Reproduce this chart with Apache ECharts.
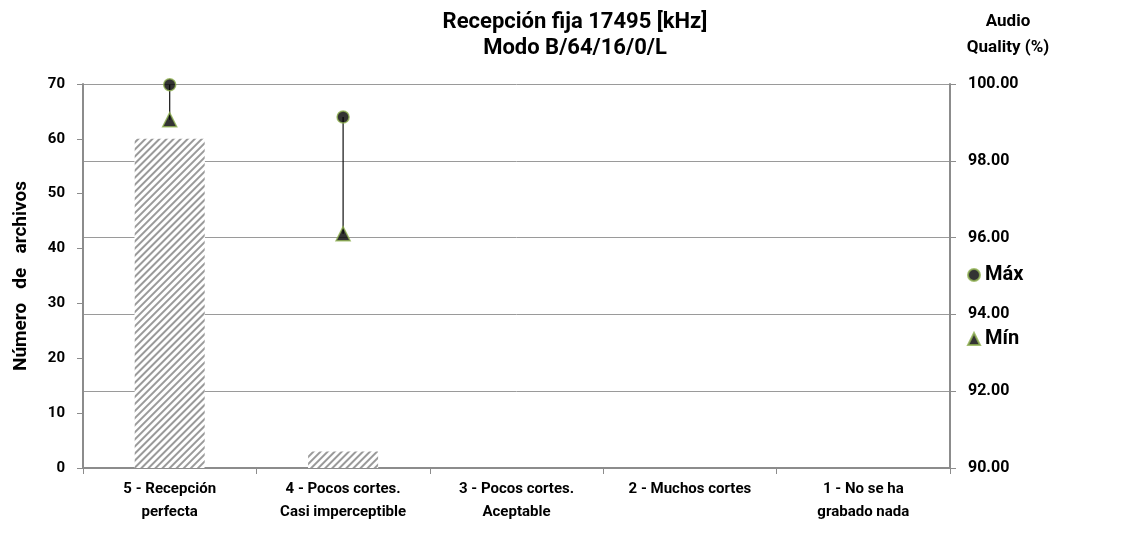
<!DOCTYPE html>
<html>
<head>
<meta charset="utf-8">
<script src="https://cdn.jsdelivr.net/npm/echarts@6/dist/echarts.min.js"></script>
<style>html,body{margin:0;padding:0;background:#fff}#c{width:1122px;height:536px}</style>
</head>
<body>
<div id="c"></div>
<script>
const categories = ['5 - Recepción\nperfecta', '4 - Pocos cortes.\nCasi imperceptible', '3 - Pocos cortes.\nAceptable', '2 - Muchos cortes', '1 - No se ha\ngrabado nada'];
const archivos = [60, 3, 0, 0, 0];
const maxQuality = [99.98, 99.14, null, null, null];
const minQuality = [99.07, 96.1, null, null, null];
const leftTicks = [0, 70, 10];
const rightTicks = [90, 100, 2];

const FONT = 'Roboto, "Noto Sans", sans-serif';
const chart = echarts.init(document.getElementById('c'), null, {renderer: 'canvas'});
const rangeData = categories.map((c, i) => [i, maxQuality[i], minQuality[i]]).filter(d => d[1] != null);
chart.setOption({
  animation: false,
  backgroundColor: '#fff',
  textStyle: {fontFamily: FONT},
  title: [
    {text: 'Recepción fija 17495 [kHz]\nModo B/64/16/0/L', left: 570, top: 4, textAlign: 'center',
     textStyle: {fontFamily: FONT, fontWeight: 'bold', fontSize: 22, lineHeight: 26, color: '#000'}},
    {text: 'Audio\nQuality (%)', left: 1003, top: 4, textAlign: 'center',
     textStyle: {fontFamily: FONT, fontWeight: 'bold', fontSize: 17, lineHeight: 26, color: '#000'}}
  ],
  legend: {
    orient: 'vertical', left: 962, top: 260, itemGap: 44, itemWidth: 12, itemHeight: 12,
    textStyle: {fontFamily: FONT, fontWeight: 'bold', fontSize: 20, color: '#000'},
    data: [{name: 'Máx', icon: 'circle'}, {name: 'Mín', icon: 'triangle'}]
  },
  grid: {left: 83, right: 172, top: 84, bottom: 68, containLabel: false},
  xAxis: {
    type: 'category', data: categories,
    axisLine: {lineStyle: {color: '#8c8c8c', width: 2}},
    axisTick: {show: true, alignWithLabel: false, length: 6, lineStyle: {color: '#8c8c8c', width: 1}},
    axisLabel: {fontFamily: FONT, fontWeight: 'bold', fontSize: 15, color: '#000', lineHeight: 23, margin: 10, interval: 0}
  },
  yAxis: [
    {type: 'value', min: leftTicks[0], max: leftTicks[1], interval: leftTicks[2], position: 'left',
     name: 'Número   de   archivos', nameLocation: 'middle', nameGap: 52,
     nameTextStyle: {fontFamily: FONT, fontWeight: 'bold', fontSize: 19, color: '#000'},
     axisLine: {show: true, lineStyle: {color: '#8c8c8c', width: 2}},
     axisTick: {show: true, length: 6, lineStyle: {color: '#8c8c8c'}},
     axisLabel: {fontFamily: FONT, fontWeight: 'bold', fontSize: 15, color: '#000', margin: 18},
     splitLine: {show: false}},
    {type: 'value', min: rightTicks[0], max: rightTicks[1], interval: rightTicks[2], position: 'right',
     axisLine: {show: true, lineStyle: {color: '#8c8c8c', width: 2}},
     axisTick: {show: true, length: 6, lineStyle: {color: '#8c8c8c'}},
     axisLabel: {fontFamily: FONT, fontWeight: 'bold', fontSize: 16, color: '#000', margin: 18,
                 formatter: v => v.toFixed(2)},
     splitLine: {show: true, lineStyle: {color: '#9a9a9a', width: 1}}}
  ],
  series: [
    {name: 'Archivos', type: 'bar', yAxisIndex: 0, data: archivos, barWidth: 70,
     itemStyle: {color: '#ffffff', borderWidth: 0,
       decal: {symbol: 'rect', symbolSize: 1, dashArrayX: [1, 0], dashArrayY: [2, 3],
               rotation: -Math.PI / 4, color: '#9a9a9a', backgroundColor: '#ffffff'}}},
    {name: 'range', type: 'custom', yAxisIndex: 1, data: rangeData, z: 3,
     renderItem: (params, api) => {
       const p1 = api.coord([api.value(0), api.value(1)]);
       const p2 = api.coord([api.value(0), api.value(2)]);
       return {type: 'line', shape: {x1: p1[0], y1: p1[1], x2: p2[0], y2: p2[1]},
               style: {stroke: '#111', lineWidth: 1.2}};
     }},
    {name: 'Máx', type: 'scatter', yAxisIndex: 1, data: maxQuality, symbol: 'circle', symbolSize: 12, z: 5,
     itemStyle: {color: '#000', borderColor: '#8fb050', borderWidth: 1.5}},
    {name: 'Mín', type: 'scatter', yAxisIndex: 1, data: minQuality, symbol: 'triangle', symbolSize: 14, z: 5,
     itemStyle: {color: '#000', borderColor: '#8fb050', borderWidth: 1.5}}
  ]
});
</script>
</body>
</html>
